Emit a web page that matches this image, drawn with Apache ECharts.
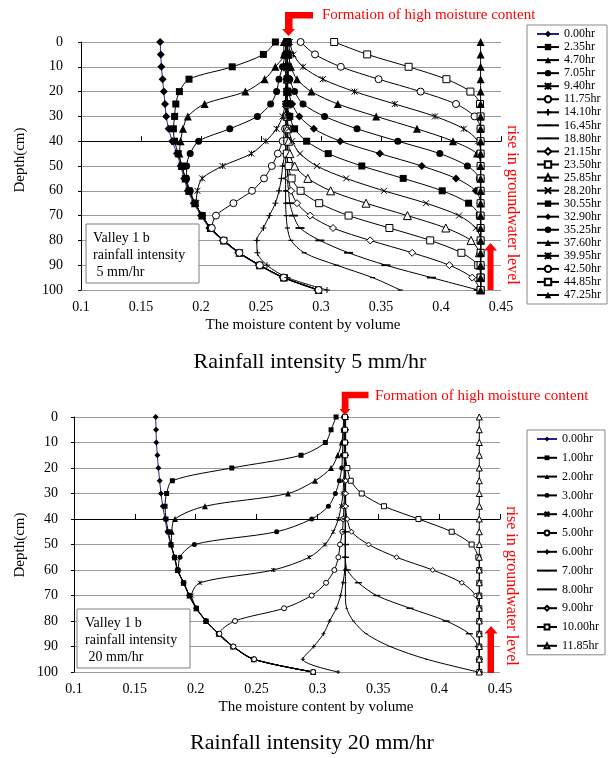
<!DOCTYPE html>
<html>
<head>
<meta charset="utf-8">
<script src="https://cdn.jsdelivr.net/npm/echarts@6.0.0/dist/echarts.min.js"></script>
<style>
  html, body { margin: 0; padding: 0; background: #fff; }
  #chart { width: 615px; height: 758px; }
</style>
</head>
<body>
<div id="chart"></div>
<script>
// depth of every measuring point (cm)
const depths = [0, 5, 10, 15, 20, 25, 30, 35, 40, 45, 50, 55, 60, 65, 70, 75, 80, 85, 90, 95, 100];
const depthTicks = [0, 10, 20, 30, 40, 50, 60, 70, 80, 90, 100];

// ---- rainfall 5 mm/hr (moisture content by volume at each depth)
const t0_00 = [0.166, 0.1665, 0.167, 0.168, 0.169, 0.170, 0.171, 0.173, 0.176, 0.180, 0.183, 0.186, 0.189, 0.194, 0.200, 0.207, 0.218, 0.231, 0.248, 0.268, 0.297];
const t2_35 = [0.262, 0.252, 0.226, 0.190, 0.182, 0.179, 0.178, 0.177, 0.178, 0.181, 0.184, 0.187, 0.190, 0.195, 0.201, 0.208, 0.219, 0.232, 0.249, 0.269, 0.298];
const t4_70 = [0.269, 0.269, 0.262, 0.253, 0.237, 0.203, 0.189, 0.185, 0.183, 0.182, 0.184, 0.187, 0.190, 0.195, 0.201, 0.208, 0.219, 0.232, 0.249, 0.269, 0.298];
const t7_05 = [0.271, 0.270, 0.268, 0.265, 0.263, 0.258, 0.247, 0.224, 0.198, 0.191, 0.188, 0.188, 0.191, 0.195, 0.201, 0.208, 0.219, 0.232, 0.249, 0.269, 0.298];
const t9_40 = [0.273, 0.274, 0.273, 0.272, 0.271, 0.270, 0.268, 0.263, 0.254, 0.242, 0.218, 0.201, 0.197, 0.196, 0.201, 0.208, 0.219, 0.232, 0.249, 0.269, 0.298];
const t11_75 = [0.272, 0.272, 0.272, 0.272, 0.272, 0.271, 0.271, 0.270, 0.268, 0.264, 0.259, 0.2525, 0.2425, 0.227, 0.2125, 0.209, 0.219, 0.232, 0.249, 0.269, 0.298];
const t14_10 = [0.271, 0.271, 0.271, 0.271, 0.271, 0.271, 0.271, 0.271, 0.271, 0.270, 0.268, 0.267, 0.265, 0.262, 0.257, 0.252, 0.2465, 0.247, 0.255, 0.272, 0.305];
const t16_45 = [0.2705, 0.2705, 0.2705, 0.2705, 0.2705, 0.2705, 0.2705, 0.2705, 0.2705, 0.2705, 0.2705, 0.2705, 0.2705, 0.2705, 0.271, 0.272, 0.275, 0.286, 0.313, 0.343, 0.366];
const t18_80 = [0.272, 0.272, 0.272, 0.272, 0.272, 0.272, 0.272, 0.272, 0.272, 0.272, 0.272, 0.272, 0.273, 0.274, 0.277, 0.2825, 0.299, 0.323, 0.354, 0.392, 0.431];
const t21_15 = [0.272, 0.272, 0.272, 0.272, 0.272, 0.272, 0.272, 0.272, 0.272, 0.272, 0.272, 0.273, 0.275, 0.280, 0.291, 0.310, 0.341, 0.376, 0.407, 0.426, 0.433];
const t23_50 = [0.272, 0.272, 0.272, 0.272, 0.272, 0.272, 0.272, 0.272, 0.272, 0.2715, 0.273, 0.2755, 0.283, 0.2985, 0.323, 0.357, 0.391, 0.417, 0.431, 0.433, 0.433];
const t25_85 = [0.272, 0.272, 0.272, 0.272, 0.272, 0.272, 0.272, 0.272, 0.273, 0.274, 0.278, 0.289, 0.308, 0.3375, 0.372, 0.404, 0.425, 0.432, 0.433, 0.433, 0.433];
const t28_20 = [0.272, 0.272, 0.272, 0.272, 0.272, 0.272, 0.272, 0.273, 0.276, 0.2825, 0.2965, 0.321, 0.3525, 0.3875, 0.415, 0.429, 0.433, 0.433, 0.433, 0.433, 0.433];
const t30_55 = [0.272, 0.272, 0.272, 0.272, 0.272, 0.272, 0.274, 0.278, 0.288, 0.306, 0.334, 0.3685, 0.401, 0.423, 0.432, 0.433, 0.433, 0.433, 0.433, 0.433, 0.433];
const t32_90 = [0.272, 0.272, 0.272, 0.272, 0.273, 0.276, 0.282, 0.294, 0.316, 0.349, 0.384, 0.4125, 0.429, 0.433, 0.433, 0.433, 0.433, 0.433, 0.433, 0.433, 0.433];
const t35_25 = [0.272, 0.272, 0.272, 0.274, 0.278, 0.285, 0.303, 0.330, 0.364, 0.399, 0.422, 0.432, 0.433, 0.433, 0.433, 0.433, 0.433, 0.433, 0.433, 0.433, 0.433];
const t37_60 = [0.272, 0.273, 0.275, 0.280, 0.292, 0.314, 0.346, 0.380, 0.410, 0.430, 0.433, 0.433, 0.433, 0.433, 0.433, 0.433, 0.433, 0.433, 0.433, 0.433, 0.433];
const t39_95 = [0.274, 0.277, 0.285, 0.3015, 0.328, 0.3615, 0.395, 0.419, 0.431, 0.433, 0.433, 0.433, 0.433, 0.433, 0.433, 0.433, 0.433, 0.433, 0.433, 0.433, 0.433];
const t42_50 = [0.283, 0.295, 0.3165, 0.348, 0.383, 0.4125, 0.428, 0.433, 0.433, 0.433, 0.433, 0.433, 0.433, 0.433, 0.433, 0.433, 0.433, 0.433, 0.433, 0.433, 0.433];
const t44_85 = [0.311, 0.3385, 0.373, 0.4045, 0.4245, 0.4325, 0.433, 0.433, 0.433, 0.433, 0.433, 0.433, 0.433, 0.433, 0.433, 0.433, 0.433, 0.433, 0.433, 0.433, 0.433];
const t47_25 = [0.433, 0.433, 0.433, 0.433, 0.433, 0.433, 0.433, 0.433, 0.433, 0.433, 0.433, 0.433, 0.433, 0.433, 0.433, 0.433, 0.433, 0.433, 0.433, 0.433, 0.433];

// ---- rainfall 20 mm/hr
const b0_00 = [0.1671, 0.1674, 0.1677, 0.1685, 0.1693, 0.1704, 0.1715, 0.1729, 0.1748, 0.1767, 0.1795, 0.1824, 0.1849, 0.1898, 0.1945, 0.2002, 0.2082, 0.2186, 0.2304, 0.2474, 0.2965];
const b1_00 = [0.3153, 0.3112, 0.3065, 0.2865, 0.2296, 0.1808, 0.1761, 0.1748, 0.1756, 0.1775, 0.1797, 0.1826, 0.1852, 0.1900, 0.1948, 0.2005, 0.2085, 0.2189, 0.2307, 0.2477, 0.2965];
const b2_00 = [0.3235, 0.3213, 0.3200, 0.3167, 0.3112, 0.2980, 0.2758, 0.2076, 0.1830, 0.1803, 0.1800, 0.1828, 0.1852, 0.1900, 0.1948, 0.2005, 0.2085, 0.2189, 0.2307, 0.2477, 0.2965];
const b3_00 = [0.3215, 0.3212, 0.3210, 0.3205, 0.3200, 0.3180, 0.3147, 0.3090, 0.2953, 0.2665, 0.1989, 0.1871, 0.1858, 0.1903, 0.1948, 0.2005, 0.2085, 0.2189, 0.2307, 0.2477, 0.2965];
const b4_00 = [0.3220, 0.3220, 0.3220, 0.3220, 0.3220, 0.3215, 0.3210, 0.3195, 0.3172, 0.3130, 0.3062, 0.2933, 0.2638, 0.2035, 0.1967, 0.2008, 0.2087, 0.2190, 0.2308, 0.2477, 0.2965];
const b5_00 = [0.3225, 0.3225, 0.3225, 0.3225, 0.3225, 0.3225, 0.3222, 0.3218, 0.3212, 0.3205, 0.3186, 0.3172, 0.3139, 0.3071, 0.2953, 0.2726, 0.2323, 0.2195, 0.2310, 0.2480, 0.2965];
const b6_00 = [0.3228, 0.3228, 0.3228, 0.3228, 0.3228, 0.3228, 0.3228, 0.3228, 0.3228, 0.3228, 0.3228, 0.3228, 0.3225, 0.3210, 0.3190, 0.3155, 0.3100, 0.3050, 0.2970, 0.2880, 0.3170];
const b7_00 = [0.3230, 0.3230, 0.3230, 0.3230, 0.3230, 0.3230, 0.3230, 0.3230, 0.3230, 0.3230, 0.3230, 0.3230, 0.3230, 0.3230, 0.3230, 0.3240, 0.3295, 0.3400, 0.3597, 0.3898, 0.4320];
const b8_00 = [0.3230, 0.3230, 0.3230, 0.3230, 0.3230, 0.3230, 0.3230, 0.3230, 0.3230, 0.3230, 0.3230, 0.3230, 0.3245, 0.3336, 0.3487, 0.3760, 0.4057, 0.4248, 0.4320, 0.4330, 0.4330];
const b9_00 = [0.3232, 0.3232, 0.3232, 0.3232, 0.3232, 0.3232, 0.3232, 0.3232, 0.3245, 0.3280, 0.3420, 0.3650, 0.3947, 0.4186, 0.4300, 0.4330, 0.4330, 0.4330, 0.4330, 0.4330, 0.4330];
const b10_00 = [0.3227, 0.3227, 0.3227, 0.3228, 0.3246, 0.3274, 0.3364, 0.3547, 0.3830, 0.4103, 0.4267, 0.4322, 0.4330, 0.4330, 0.4330, 0.4330, 0.4330, 0.4330, 0.4330, 0.4330, 0.4330];
const b11_85 = [0.4330, 0.4330, 0.4330, 0.4330, 0.4330, 0.4330, 0.4330, 0.4330, 0.4330, 0.4330, 0.4330, 0.4330, 0.4330, 0.4330, 0.4330, 0.4330, 0.4330, 0.4330, 0.4330, 0.4330, 0.4330];

const topSeries = [
  ['0.00hr', t0_00, 'fDiamond'], ['2.35hr', t2_35, 'fSquare'], ['4.70hr', t4_70, 'fTri'],
  ['7.05hr', t7_05, 'fCircle'], ['9.40hr', t9_40, 'star'], ['11.75hr', t11_75, 'oCircle'],
  ['14.10hr', t14_10, 'plus'], ['16.45hr', t16_45, 'sDash'], ['18.80hr', t18_80, 'lDash'],
  ['21.15hr', t21_15, 'oDiamond'], ['23.50hr', t23_50, 'oSquare'], ['25.85hr', t25_85, 'oTri'],
  ['28.20hr', t28_20, 'cross'], ['30.55hr', t30_55, 'fSquare'], ['32.90hr', t32_90, 'fDiamond'],
  ['35.25hr', t35_25, 'fCircle'], ['37.60hr', t37_60, 'fTri'], ['39.95hr', t39_95, 'star'],
  ['42.50hr', t42_50, 'oCircle'], ['44.85hr', t44_85, 'oSquare'], ['47.25hr', t47_25, 'fTri']
];
const bottomSeries = [
  ['0.00hr', b0_00, 'fDiamond'], ['1.00hr', b1_00, 'fSquare'], ['2.00hr', b2_00, 'fTri'],
  ['3.00hr', b3_00, 'fCircle'], ['4.00hr', b4_00, 'star'], ['5.00hr', b5_00, 'oCircle'],
  ['6.00hr', b6_00, 'plus'], ['7.00hr', b7_00, 'sDash'], ['8.00hr', b8_00, 'lDash'],
  ['9.00hr', b9_00, 'oDiamond'], ['10.00hr', b10_00, 'oSquare'], ['11.85hr', b11_85, 'oTri']
];

const FONT = 'Liberation Serif';
const RED = '#ff0000';

function marker(kind, s) {
  const filled = { color: '#000', borderWidth: 0 };
  const open = { color: '#fff', borderColor: '#000', borderWidth: 1 };
  const stroke = { color: 'rgba(0,0,0,0)', borderColor: '#000', borderWidth: 1 };
  switch (kind) {
    case 'fDiamond': return { symbol: 'diamond', symbolSize: s + 1, itemStyle: filled };
    case 'fSquare': return { symbol: 'rect', symbolSize: s, itemStyle: filled };
    case 'fTri': return { symbol: 'triangle', symbolSize: s + 1, itemStyle: filled };
    case 'fCircle': return { symbol: 'circle', symbolSize: s, itemStyle: filled };
    case 'star': return { symbol: 'path://M0,0L10,10M10,0L0,10M5,0L5,10', symbolSize: s - 1, itemStyle: stroke };
    case 'oCircle': return { symbol: 'circle', symbolSize: s, itemStyle: open };
    case 'plus': return { symbol: 'path://M5,0L5,10M0,5L10,5', symbolSize: s - 1, itemStyle: stroke };
    case 'sDash': return { symbol: 'path://M0,0M10,10M0,3.8H10V6.2H0Z', symbolSize: s - 2, itemStyle: filled };
    case 'lDash': return { symbol: 'path://M0,0M10,10M0,4H10V6H0Z', symbolSize: s + 2, itemStyle: filled };
    case 'oDiamond': return { symbol: 'diamond', symbolSize: s, itemStyle: open };
    case 'oSquare': return { symbol: 'rect', symbolSize: s, itemStyle: open };
    case 'oTri': return { symbol: 'triangle', symbolSize: s + 1, itemStyle: open };
    case 'cross': return { symbol: 'path://M0,0L10,10M10,0L0,10', symbolSize: s - 1, itemStyle: stroke };
  }
}

function buildSeries(list, idx, s) {
  return list.map(([name, vals, kind]) => Object.assign({
    type: 'line',
    name: name,
    xAxisIndex: idx * 2,
    yAxisIndex: idx,
    data: vals.map((v, i) => [v, depths[i]]),
    smooth: 0.3,
    lineStyle: { color: name === '0.00hr' ? '#22229a' : '#000', width: 1 },
    emphasis: { disabled: true },
    z: 2
  }, marker(kind, s)));
}

function yAxis(idx, margin) {
  return {
    type: 'value', gridIndex: idx, inverse: true, min: 0, max: 100, interval: 10,
    axisLine: { show: true, lineStyle: { color: '#000', width: 1 } },
    axisTick: { show: true, length: 3, lineStyle: { color: '#000' } },
    axisLabel: { fontFamily: FONT, fontSize: 14, color: '#000', margin: margin,
      formatter: v => depthTicks.indexOf(v) >= 0 ? String(v) : '' },
    splitLine: { show: true, lineStyle: { color: '#9a9a9a', width: 1 } }
  };
}
function xLabelAxis(idx) {
  return {
    type: 'value', gridIndex: idx, min: 0.1, max: 0.45, interval: 0.05, position: 'bottom',
    axisLine: { show: false }, axisTick: { show: false }, splitLine: { show: false },
    axisLabel: { fontFamily: FONT, fontSize: 14, color: '#000', margin: 10 }
  };
}
// horizontal axis line drawn across the plot at depth 40
function xLineAxis(idx, offset) {
  return {
    type: 'value', gridIndex: idx, min: 0.1, max: 0.45, interval: 0.05, position: 'top', offset: offset,
    axisLine: { show: true, lineStyle: { color: '#000', width: 1.2 } },
    axisTick: { show: true, inside: false, length: 5, lineStyle: { color: '#000' } },
    axisLabel: { show: false }, splitLine: { show: false }
  };
}

function txt(text, x, y, size, color, opts) {
  return Object.assign({
    type: 'text', x: x, y: y, z: 100,
    style: { text: text, fill: color, font: size + 'px "' + FONT + '"',
      align: 'center', verticalAlign: 'middle', textAlign: 'center', textVerticalAlign: 'middle' }
  }, opts || {});
}
function leftTxt(text, x, y, size, color) {
  return { type: 'text', x: x, y: y, z: 100,
    style: { text: text, fill: color, font: size + 'px "' + FONT + '"',
      align: 'left', verticalAlign: 'middle', textAlign: 'left', textVerticalAlign: 'middle' } };
}
function poly(points) {
  return { type: 'polygon', z: 100, shape: { points: points }, style: { fill: RED } };
}
function box(x, y, w, h, lines, tx, ty) {
  const out = [{ type: 'rect', z: 99, shape: { x: x, y: y, width: w, height: h },
    style: { fill: '#fff', stroke: '#7f7f7f', lineWidth: 1 } }];
  lines.forEach((l, i) => out.push(leftTxt(l, tx, ty + i * 17, 14, '#000')));
  return out;
}

const chart = echarts.init(document.getElementById('chart'));
chart.setOption({
  animation: false,
  backgroundColor: '#fff',
  grid: [
    { left: 81, top: 42, width: 420, height: 248 },
    { left: 74, top: 417, width: 426, height: 255 }
  ],
  xAxis: [xLabelAxis(0), xLineAxis(0, -99.2), xLabelAxis(1), xLineAxis(1, -102)],
  yAxis: [yAxis(0, 18), yAxis(1, 16)],
  legend: [
    {
      orient: 'vertical', left: 527, top: 25, selectedMode: false,
      data: topSeries.map(s => s[0]),
      itemWidth: 22, itemHeight: 8, itemGap: 1.05,
      padding: [3, 6, 3, 9], borderColor: '#888', borderWidth: 1, backgroundColor: '#fff',
      textStyle: { fontFamily: FONT, fontSize: 12, color: '#000' }
    },
    {
      orient: 'vertical', left: 527, top: 430, selectedMode: false,
      data: bottomSeries.map(s => s[0]),
      itemWidth: 20, itemHeight: 6, itemGap: 6.8,
      padding: [3, 6, 3, 9], borderColor: '#888', borderWidth: 1, backgroundColor: '#fff',
      textStyle: { fontFamily: FONT, fontSize: 12, color: '#000' }
    }
  ],
  series: buildSeries(topSeries, 0, 7).concat(buildSeries(bottomSeries, 1, 5)),
  graphic: [
    // top chart texts
    txt('Depth(cm)', 20, 160, 15, '#000', { rotation: Math.PI / 2 }),
    txt('The moisture content by volume', 303, 325, 15, '#000'),
    txt('Rainfall intensity 5 mm/hr', 310, 362, 22, '#000'),
    leftTxt('Formation of high moisture content', 322, 15, 15, RED),
    txt('rise in groundwater level', 512, 205, 16, RED, { rotation: -Math.PI / 2 }),
    poly([[285, 12], [313, 12], [313, 18.5], [292.5, 18.5], [292.5, 29], [295, 29], [288.5, 36], [282, 29], [285, 29]]),
    poly([[490.5, 243], [497, 250.5], [493.5, 250.5], [493.5, 290], [487.5, 290], [487.5, 250.5], [484, 250.5]]),
    ...box(86, 224, 113, 59, ['Valley 1 b', 'rainfall intensity', ' 5 mm/hr'], 93, 238),
    // bottom chart texts
    txt('Depth(cm)', 20, 545, 15, '#000', { rotation: Math.PI / 2 }),
    txt('The moisture content by volume', 316, 707, 15, '#000'),
    txt('Rainfall intensity 20 mm/hr', 312, 743, 22, '#000'),
    leftTxt('Formation of high moisture content', 375, 396, 15, RED),
    txt('rise in groundwater level', 511, 586, 16, RED, { rotation: -Math.PI / 2 }),
    poly([[341.7, 391.7], [368.5, 391.7], [368.5, 398.3], [348.5, 398.3], [348.5, 409], [350.5, 409], [345, 415.5], [339.5, 409], [341.7, 409]]),
    poly([[491, 626], [497.5, 633.5], [494, 633.5], [494, 673], [487.5, 673], [487.5, 633.5], [484.5, 633.5]]),
    ...box(77, 609, 113, 59, ['Valley 1 b', 'rainfall intensity', ' 20 mm/hr'], 85, 623)
  ]
});
</script>
</body>
</html>
